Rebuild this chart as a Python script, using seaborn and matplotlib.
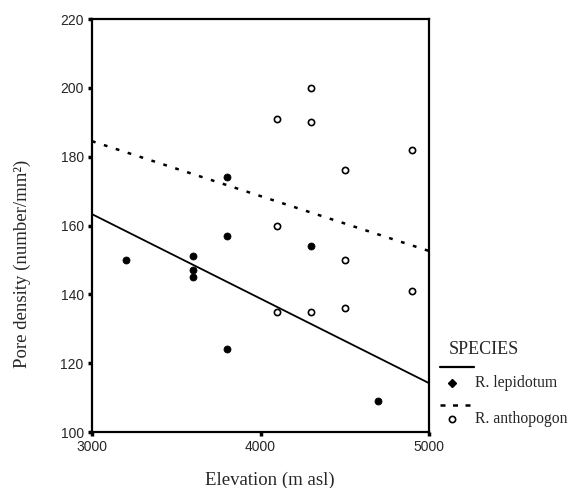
import matplotlib
matplotlib.use("Agg")
import matplotlib.pyplot as plt
from matplotlib.lines import Line2D
import seaborn as sns
import pandas as pd

# Observations: elevation (m asl) and pore density (number/mm2)
lep_elev = [3200, 3600, 3600, 3600, 3800, 3800, 3800, 4300, 4700]
lep_density = [150, 151, 147, 145, 174, 157, 124, 154, 109]
anth_elev = [4100, 4100, 4100, 4300, 4300, 4300, 4500, 4500, 4500, 4900, 4900]
anth_density = [191, 160, 135, 200, 190, 135, 176, 150, 136, 182, 141]

# Linear fit lines per species, evaluated at the axis ends
fit_elev = [3000, 5000]
lep_fit = [163.3, 114.2]
anth_fit = [184.5, 152.6]

x_ticks = [3000, 4000, 5000]
y_ticks = [100, 120, 140, 160, 180, 200, 220]
species = ["R. lepidotum", "R. anthopogon"]

sns.set_theme(style="white")
serif = ["Liberation Serif", "DejaVu Serif"]
sans = ["Liberation Sans", "DejaVu Sans"]

W, H = 573, 488
fig = plt.figure(figsize=(W / 100, H / 100), dpi=100)
ax = fig.add_axes([92 / W, 1 - 432 / H, 337 / W, 413 / H])

lep = pd.DataFrame({"elev": lep_elev, "density": lep_density})
anth = pd.DataFrame({"elev": anth_elev, "density": anth_density})

solid_style = dict(color="black", lw=1.3)
dash_style = dict(color="black", lw=1.8, linestyle=(0, (1.5, 3.5)))

sns.lineplot(x=fit_elev, y=lep_fit, ax=ax, **solid_style)
sns.lineplot(x=fit_elev, y=anth_fit, ax=ax, **dash_style)
sns.scatterplot(data=lep, x="elev", y="density", ax=ax, marker="o", s=26,
                color="black", edgecolor="black", linewidth=0.5, zorder=3)
sns.scatterplot(data=anth, x="elev", y="density", ax=ax, marker="o", s=20,
                facecolor="white", edgecolor="black", linewidth=1.2, zorder=3)

ax.set_xlim(3000, 5000)
ax.set_ylim(100, 220)
ax.set_xticks(x_ticks)
ax.set_yticks(y_ticks)
ax.set_xticklabels([str(t) for t in x_ticks], family=sans, fontsize=10)
ax.set_yticklabels([str(t) for t in y_ticks], family=sans, fontsize=10)
ax.tick_params(axis="both", direction="out", length=3, width=2.5,
               color="black", pad=3, bottom=True, left=True)
for sp in ax.spines.values():
    sp.set_visible(True)
    sp.set_color("black")
    sp.set_linewidth(1.6)

ax.set_xlabel("Elevation (m asl)", family=serif, fontsize=13.5)
ax.xaxis.label.set_va("center")
ax.xaxis.set_label_coords(0.528, -0.116)
ax.set_ylabel("Pore density (number/mm²)", family=serif, fontsize=13.5)
ax.yaxis.label.set_va("center")
ax.yaxis.set_label_coords(-0.208, 0.407)


# Species key beside the plot, placed in figure pixels
def fx(px):
    return px / W


def fy(py):
    return 1 - py / H


tf = fig.transFigure
fig.text(fx(449), fy(350), "SPECIES", family=serif, fontsize=13,
         va="center", ha="left")
fig.add_artist(Line2D([fx(440), fx(474)], [fy(367), fy(367)],
                      transform=tf, color="black", lw=1.6))
fig.add_artist(Line2D([fx(452)], [fy(383)], transform=tf, lw=0, marker="D",
                      markersize=4.2, color="black"))
fig.text(fx(475), fy(383), species[0], family=serif, fontsize=11.3,
         va="center", ha="left")
fig.add_artist(Line2D([fx(440), fx(476)], [fy(405), fy(405)], transform=tf,
                      color="black", lw=1.8, linestyle=(0, (2.0, 3.0))))
fig.add_artist(Line2D([fx(452)], [fy(419)], transform=tf, lw=0, marker="o",
                      markersize=4.5, markerfacecolor="white",
                      markeredgecolor="black", markeredgewidth=1.2))
fig.text(fx(475), fy(419), species[1], family=serif, fontsize=11.3,
         va="center", ha="left")

fig.savefig("out.png", dpi=100, facecolor="white")
